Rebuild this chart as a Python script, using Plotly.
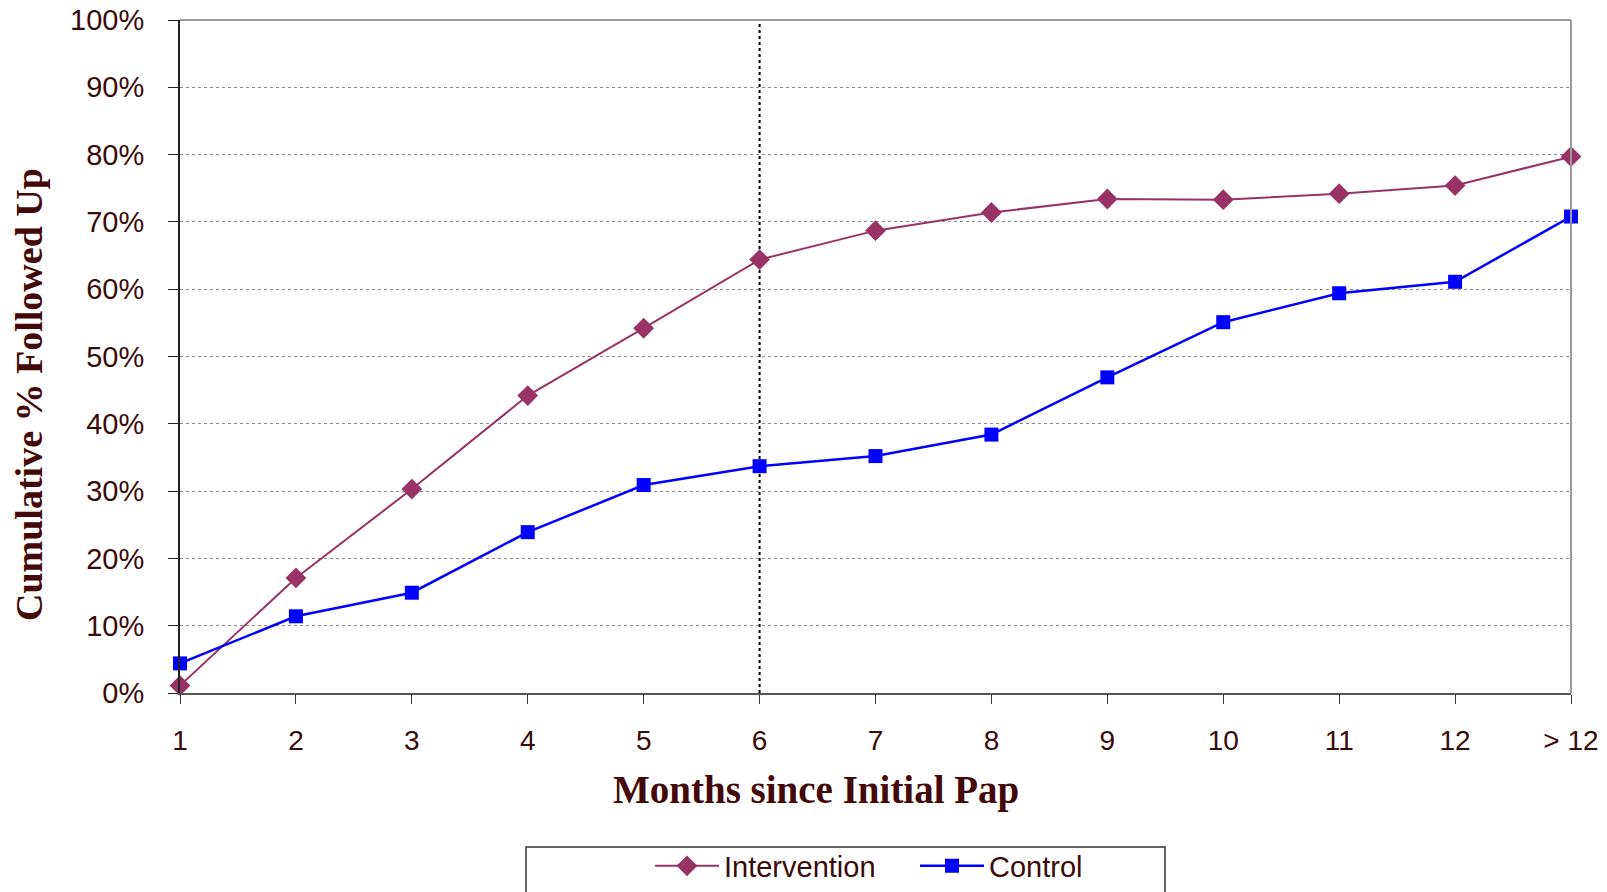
import plotly.graph_objects as go

categories = ["1", "2", "3", "4", "5", "6", "7", "8", "9", "10", "11", "12", "> 12"]
intervention = [1.1, 17.1, 30.3, 44.2, 54.2, 64.4, 68.7, 71.4, 73.4, 73.3, 74.2, 75.4, 79.7]
control = [4.4, 11.4, 14.9, 23.9, 30.9, 33.7, 35.2, 38.4, 46.9, 55.1, 59.4, 61.1, 70.8]
y_ticks = [0, 10, 20, 30, 40, 50, 60, 70, 80, 90, 100]
y_tick_labels = [f"{v}%" for v in y_ticks]
marker_month = "6"
x_title = "Months since Initial Pap"
y_title = "Cumulative % Followed Up"

xpos = list(range(len(categories)))
text_color = "#3b0a0a"
title_color = "#450808"

# body margin is removed in the page, so figure fills the window exactly
W, H = 1607, 892
L, T, PW, PH = 180, 20, 1391, 673
OFF = 0


def px_to_paper_x(px):
    return (px - OFF - L) / PW


def px_to_paper_y(py):
    return 1 - (py - OFF - T) / PH


fig = go.Figure()
fig.add_trace(go.Scatter(
    x=xpos, y=intervention, name="Intervention", mode="lines+markers",
    line=dict(color="#993366", width=2),
    marker=dict(symbol="diamond", size=16, color="#993366"),
    cliponaxis=False,
))
fig.add_trace(go.Scatter(
    x=xpos, y=control, name="Control", mode="lines+markers",
    line=dict(color="#0000FF", width=2.5),
    marker=dict(symbol="square", size=14, color="#0000FF"),
    cliponaxis=False,
))

mi = categories.index(marker_month)
fig.add_shape(type="line", xref="x", yref="y", x0=mi, x1=mi, y0=0, y1=100,
              line=dict(color="black", width=2, dash="dot"), layer="below")
# top and right border of plot area
fig.add_shape(type="line", xref="paper", yref="paper", x0=0, x1=1, y0=1, y1=1,
              line=dict(color="#9a9a9a", width=2))
fig.add_shape(type="line", xref="paper", yref="paper", x0=1, x1=1, y0=0, y1=1,
              line=dict(color="#9a9a9a", width=2))
# legend box (extends past bottom of page as in reference)
fig.add_shape(type="rect", xref="paper", yref="paper",
              x0=px_to_paper_x(526), x1=px_to_paper_x(1165),
              y0=px_to_paper_y(905), y1=px_to_paper_y(847),
              line=dict(color="#333333", width=1.5), fillcolor="rgba(0,0,0,0)")

fig.add_annotation(text=f"<b>{x_title}</b>", xref="paper", yref="paper",
                   x=px_to_paper_x(816), y=px_to_paper_y(790),
                   xanchor="center", yanchor="middle", showarrow=False,
                   font=dict(family="Liberation Serif, DejaVu Serif", size=39, color=title_color))
fig.add_annotation(text=f"<b>{y_title}</b>", xref="paper", yref="paper",
                   x=px_to_paper_x(29), y=px_to_paper_y(395), textangle=-90,
                   xanchor="center", yanchor="middle", showarrow=False,
                   font=dict(family="Liberation Serif, DejaVu Serif", size=38, color=title_color))

fig.update_layout(
    width=W, height=H,
    margin=dict(l=L, r=W - L - PW, t=T, b=H - T - PH, autoexpand=False),
    plot_bgcolor="white", paper_bgcolor="white",
    showlegend=True,
    legend=dict(orientation="h", x=px_to_paper_x(650), xanchor="left",
                y=px_to_paper_y(866), yanchor="middle",
                font=dict(family="Liberation Sans, Arial", size=29, color=text_color),
                bgcolor="rgba(0,0,0,0)", itemwidth=64, entrywidth=186, tracegroupgap=0),
    xaxis=dict(
        range=[0, len(categories) - 1], tickmode="array", tickvals=xpos, ticktext=categories,
        showgrid=False, zeroline=False, showline=True, linecolor="#555555", linewidth=2,
        ticks="outside", ticklen=9, tickcolor="#333333", tickwidth=1,
        tickfont=dict(family="Liberation Sans, Arial", size=28, color=text_color),
        ticklabelstandoff=12, ticklabeloverflow="allow",
    ),
    yaxis=dict(
        range=[0, 100], tickmode="array", tickvals=y_ticks, ticktext=y_tick_labels,
        showgrid=True, gridcolor="#8a8a8a", gridwidth=1, griddash="dot",
        zeroline=False, showline=True, linecolor="#222222", linewidth=2,
        ticks="outside", ticklen=10, tickcolor="#222222", tickwidth=1,
        tickfont=dict(family="Liberation Sans, Arial", size=29, color=text_color),
        ticklabelstandoff=18, ticklabeloverflow="allow",
    ),
)

fig.write_html("out.html", config={"displayModeBar": False},
               post_script="document.body.style.margin='0px';")
